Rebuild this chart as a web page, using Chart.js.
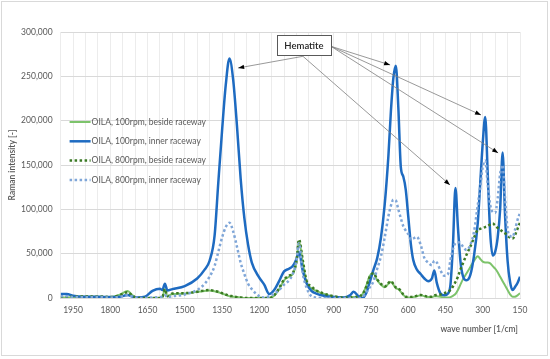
<!DOCTYPE html>
<html>
<head>
    <title>Raman spectra</title>
    <script src="https://cdn.jsdelivr.net/npm/chart.js"></script>
    <style>
        body { margin: 0; background: #fff; }
        #box { position: relative; width: 550px; height: 359px; }
    </style>
</head>
<body>
    <div id="box"><canvas id="ramanChart" width="550" height="359"></canvas></div>

    <script>
        // wave numbers [1/cm], shared by all four spectra
        const wave = [2000, 1975, 1950, 1900, 1850, 1800, 1760, 1730, 1710, 1690,
            1660, 1630, 1600, 1590, 1580, 1570, 1550, 1500, 1450, 1420,
            1400, 1380, 1365, 1350, 1335, 1320, 1305, 1290, 1275, 1260,
            1245, 1230, 1200, 1180, 1160, 1140, 1120, 1100, 1080, 1065,
            1050, 1040, 1025, 1010, 990, 970, 940, 900, 860, 835,
            820, 800, 785, 770, 755, 740, 725, 710, 695, 680,
            670, 660, 650, 640, 630, 620, 610, 600, 590, 580,
            565, 550, 535, 520, 505, 495, 485, 470, 455, 440,
            430, 420, 410, 400, 390, 380, 365, 350, 335, 320,
            310, 300, 290, 280, 270, 260, 250, 240, 230, 220,
            210, 200, 190, 180, 170, 160, 150];

        const beside100 = [500, 500, 1000, 1500, 1500, 1000, 4000, 8000, 3000, 0,
            0, 0, 0, 1000, 10000, 2000, 4500, 5000, 7000, 8000,
            8500, 7500, 6500, 5000, 3500, 2000, 1500, 1000, 500, 0,
            0, 0, 0, 0, 0, 2500, 10000, 20000, 24000, 27000,
            40000, 64000, 40000, 18000, 11000, 8000, 4500, 1500, 500, 500,
            1000, 1500, 4000, 13000, 25000, 28000, 20000, 15000, 12000, 16000,
            18000, 15000, 11000, 10000, 7000, 3500, 1000, 500, 500, 1000,
            2000, 3000, 2000, 1000, 1000, 2000, 2000, 1500, 500, 500,
            1000, 2500, 4500, 9000, 15000, 21000, 28000, 35000, 42000, 47000,
            44000, 41000, 40000, 40000, 39000, 36000, 33000, 29000, 24000, 19000,
            14000, 9000, 4000, 1500, 1500, 3000, 5500];

        const inner100 = [4500, 4500, 2500, 1500, 1500, 1000, 1500, 3500, 1500, 500,
            1500, 8000, 10500, 9000, 16000, 8500, 10000, 13500, 22000, 32000,
            42000, 70000, 130000, 188000, 240000, 270000, 246000, 195000, 135000, 90000,
            60000, 40000, 23000, 15000, 4500, 9000, 19000, 30000, 33000, 36000,
            44000, 52000, 31000, 17000, 8000, 5000, 2500, 1000, 500, 3000,
            7000, 2000, 0, 5000, 18000, 32000, 45000, 68000, 105000, 160000,
            210000, 248000, 262000, 215000, 148000, 137000, 122000, 92000, 62000, 43000,
            32000, 27000, 22000, 19000, 22000, 31000, 17000, 5000, 3000, 5000,
            15000, 60000, 124000, 80000, 42000, 25000, 20000, 26000, 48000, 85000,
            130000, 175000, 204000, 140000, 73000, 48000, 52000, 68000, 100000, 164000,
            92000, 42000, 18000, 9000, 12500, 17000, 24000];

        const beside800 = [1000, 1000, 1500, 2000, 2000, 1000, 3500, 6500, 2500, 0,
            0, 0, 0, 1000, 10000, 2000, 5000, 5500, 7000, 8500,
            9000, 8000, 7000, 5500, 4000, 2500, 2000, 1000, 500, 0,
            0, 0, 0, 0, 0, 3000, 11000, 21000, 25000, 28000,
            42000, 66000, 43000, 20000, 13000, 8500, 5000, 2000, 500, 500,
            1000, 1500, 4000, 12000, 24000, 28000, 21000, 16000, 13000, 17000,
            19000, 16000, 12000, 11000, 8000, 4000, 1500, 1000, 1000, 1500,
            2500, 3500, 2500, 1500, 1500, 3000, 3500, 4000, 5500, 7000,
            9000, 13000, 18000, 24000, 32000, 39000, 49000, 58000, 68000, 77000,
            78000, 79000, 80000, 81000, 83000, 84000, 82000, 79000, 77000, 75000,
            73000, 70000, 68000, 67000, 71000, 78000, 85000];

        const inner800 = [2000, 2000, 1000, 1000, 1500, 500, 1500, 3000, 1500, 0,
            0, 500, 1000, 1000, 3000, 1000, 2000, 4000, 9000, 16000,
            24000, 36000, 52000, 68000, 80000, 85000, 75000, 58000, 40000, 27000,
            16000, 10000, 2000, 500, 2000, 5000, 9000, 15000, 20000, 27000,
            42000, 62000, 28000, 12000, 2000, 500, 0, 0, 0, 0,
            0, 0, 1000, 6000, 12000, 19000, 33000, 47000, 68000, 92000,
            104000, 111000, 110000, 100000, 90000, 81000, 76000, 72000, 66000, 67000,
            69000, 60000, 45000, 40000, 37000, 42000, 40000, 31000, 25000, 27000,
            43000, 55000, 62000, 63000, 62000, 58000, 54000, 60000, 75000, 105000,
            125000, 148000, 155000, 128000, 105000, 97000, 96000, 112000, 140000, 150000,
            112000, 78000, 70000, 69000, 77000, 88000, 96000];

        const seriesLabels = ['OILA, 100rpm, beside raceway', 'OILA, 100rpm, inner raceway',
            'OILA, 800rpm, beside raceway', 'OILA, 800rpm, inner raceway'];

        // Hematite callout: box centre and arrow tips in data units
        const hematiteBox = [1020, 285000];
        const hematiteFromBottom = [[1285, 259400], [432, 127500]];
        const hematiteFromRight = [[673, 262800], [307, 206400], [238, 163600]];

        const FONT = 'Lato';
        const GREY = '#595959';

        function pts(arr) {
            return wave.map((w, i) => ({ x: w, y: arr[i] }));
        }

        const styles = [
            { color: '#7DC36B', width: 2, dash: [], order: 4 },
            { color: '#1E6BC1', width: 2.5, dash: [], order: 3 },
            { color: '#3B7A24', width: 2.5, dash: [2.5, 2.5], order: 2 },
            { color: '#7FA6D8', width: 2.5, dash: [2.5, 2.5], order: 1 }
        ];
        const values = [beside100, inner100, beside800, inner800];

        const datasets = values.map((v, i) => ({
            label: seriesLabels[i],
            data: pts(v),
            borderColor: styles[i].color,
            borderWidth: styles[i].width,
            borderDash: styles[i].dash,
            order: styles[i].order,
            pointRadius: 0,
            fill: false,
            cubicInterpolationMode: 'monotone'
        }));

        const frame = {
            id: 'frame',
            beforeDraw(chart) {
                const c = chart.ctx;
                c.save();
                c.fillStyle = '#fff';
                c.fillRect(0, 0, chart.width, chart.height);
                c.strokeStyle = '#d9d9d9';
                c.lineWidth = 1;
                c.strokeRect(1.5, 1.5, 546, 354);
                c.restore();
            },
            afterDraw(chart) {
                // x axis title, right aligned under the plot (reversed axis breaks align:'end')
                const c = chart.ctx;
                c.save();
                c.font = '600 8.5px ' + FONT;
                c.fillStyle = GREY;
                c.textAlign = 'right';
                c.textBaseline = 'middle';
                c.fillText('wave number [1/cm]', chart.chartArea.right - 2, 329);
                c.restore();
            }
        };

        const legendInside = {
            id: 'legendInside',
            afterDraw(chart) {
                const c = chart.ctx;
                const x0 = chart.chartArea.left + 9;
                let y = chart.chartArea.top + 90;
                c.save();
                c.font = '8.5px ' + FONT;
                c.textBaseline = 'middle';
                chart.data.datasets.forEach(ds => {
                    c.strokeStyle = ds.borderColor;
                    c.lineWidth = ds.borderWidth;
                    c.setLineDash(ds.borderDash);
                    c.beginPath();
                    c.moveTo(x0, y);
                    c.lineTo(x0 + 21, y);
                    c.stroke();
                    c.setLineDash([]);
                    c.fillStyle = GREY;
                    c.fillText(ds.label, x0 + 22, y);
                    y += 19.3;
                });
                c.restore();
            }
        };

        function arrow(c, x1, y1, x2, y2) {
            const a = Math.atan2(y2 - y1, x2 - x1);
            c.beginPath();
            c.moveTo(x1, y1);
            c.lineTo(x2, y2);
            c.stroke();
            c.beginPath();
            c.moveTo(x2, y2);
            c.lineTo(x2 - 6 * Math.cos(a) + 2.2 * Math.sin(a), y2 - 6 * Math.sin(a) - 2.2 * Math.cos(a));
            c.lineTo(x2 - 6 * Math.cos(a) - 2.2 * Math.sin(a), y2 - 6 * Math.sin(a) + 2.2 * Math.cos(a));
            c.closePath();
            c.fill();
        }

        const callout = {
            id: 'callout',
            afterDatasetsDraw(chart) {
                const c = chart.ctx;
                const xs = chart.scales.x, ys = chart.scales.y;
                const cx = xs.getPixelForValue(hematiteBox[0]);
                const cy = ys.getPixelForValue(hematiteBox[1]);
                const w = 54, h = 20;
                c.save();
                c.strokeStyle = '#7f7f7f';
                c.fillStyle = '#000';
                c.lineWidth = 0.8;
                hematiteFromBottom.forEach(p => arrow(c, cx - 1, cy + h / 2 + 1,
                    xs.getPixelForValue(p[0]), ys.getPixelForValue(p[1])));
                hematiteFromRight.forEach(p => arrow(c, cx + w / 2, cy + 1,
                    xs.getPixelForValue(p[0]), ys.getPixelForValue(p[1])));
                c.fillStyle = '#fff';
                c.fillRect(cx - w / 2, cy - h / 2, w, h);
                c.strokeStyle = '#595959';
                c.lineWidth = 1;
                c.strokeRect(Math.round(cx - w / 2) + 0.5, Math.round(cy - h / 2) + 0.5, w, h);
                c.fillStyle = '#262626';
                c.font = '600 9.5px ' + FONT;
                c.textAlign = 'center';
                c.textBaseline = 'middle';
                c.fillText('Hematite', cx, cy + 0.5);
                c.restore();
            }
        };

        new Chart(document.getElementById('ramanChart').getContext('2d'), {
            type: 'line',
            data: { datasets: datasets },
            plugins: [frame, legendInside, callout],
            options: {
                responsive: false,
                animation: false,
                layout: { padding: { left: 0, right: 30, top: 32, bottom: 0 } },
                plugins: { legend: { display: false }, tooltip: { enabled: false } },
                scales: {
                    x: {
                        type: 'linear',
                        reverse: true,
                        min: 150,
                        max: 2000,
                        afterFit: s => { s.height = 61; },
                        border: { color: '#d9d9d9' },
                        grid: { color: '#ececec', drawTicks: false },
                        ticks: {
                            stepSize: 50,
                            autoSkip: false,
                            maxRotation: 0,
                            padding: 7,
                            color: GREY,
                            font: { family: FONT, size: 8.5 },
                            callback: v => (v % 150 === 0 ? String(v) : '')
                        }
                    },
                    y: {
                        min: 0,
                        max: 300000,
                        afterFit: s => { s.width = 60.6; },
                        border: { display: false },
                        grid: { color: '#d9d9d9', drawTicks: false },
                        ticks: {
                            stepSize: 50000,
                            padding: 8,
                            color: GREY,
                            font: { family: FONT, size: 8.5 },
                            callback: v => v.toLocaleString('en-US')
                        },
                        title: {
                            display: true,
                            text: 'Raman intensity [-]',
                            color: GREY,
                            font: { family: FONT, size: 8.5, weight: '600' },
                            padding: { top: 7, bottom: 0 }
                        }
                    }
                }
            }
        });
    </script>
</body>
</html>
